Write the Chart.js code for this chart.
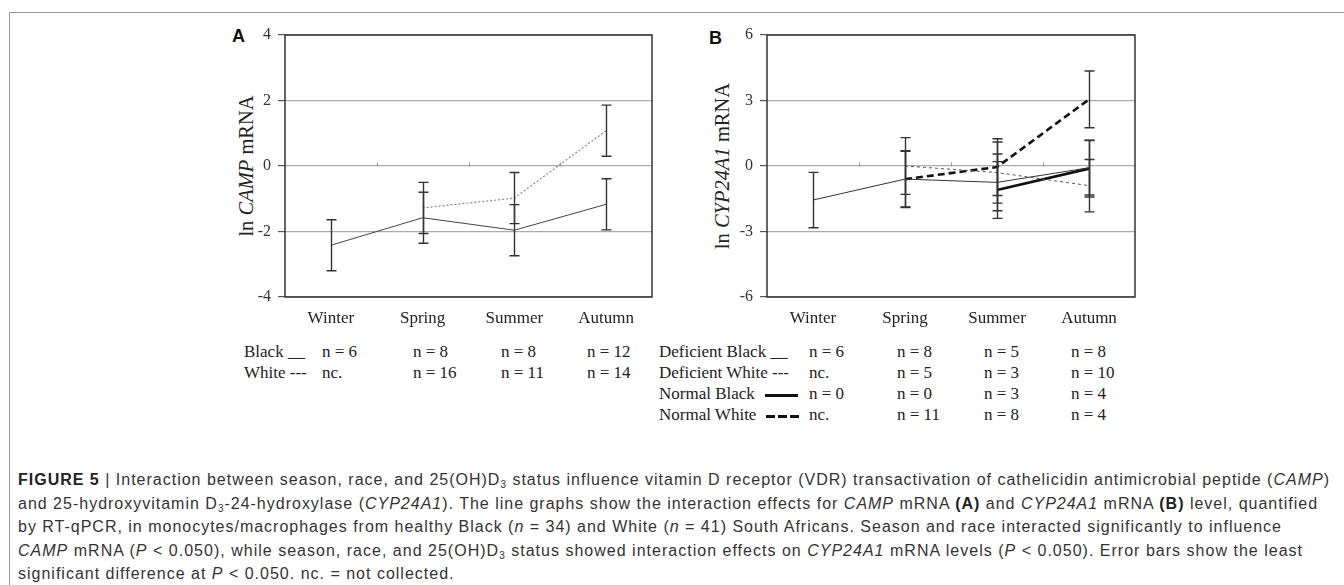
<!DOCTYPE html>
<html>
<head>
<meta charset="utf-8">
<script src="https://cdn.jsdelivr.net/npm/chart.js@4/dist/chart.umd.min.js"></script>
<style>
  body { margin: 0; background: #fff; width: 1344px; height: 585px; overflow: hidden; position: relative; }
  .frame { position: absolute; left: 9px; top: 12px; width: 1400px; height: 600px; border-left: 1px solid #999; border-top: 1px solid #999; }
  .cv { position: absolute; }
  .t { position: absolute; font-family: "Liberation Serif", serif; font-size: 17px; color: #222; white-space: nowrap; line-height: 20px; }
  .panel { position: absolute; font-family: "Liberation Sans", Arial, sans-serif; font-weight: bold; font-size: 18px; color: #111; }
  .ytitle { position: absolute; font-family: "Liberation Serif", serif; font-size: 20.5px; color: #222; white-space: nowrap; transform: translate(-50%, -50%) rotate(-90deg); }
  .cl { position: absolute; left: 18px; font-family: "Liberation Sans", Arial, sans-serif; font-size: 16px; line-height: 20px; color: #333; white-space: nowrap; }
  .cl b { color: #222; }
  .cl sub { font-size: 10px; vertical-align: baseline; position: relative; top: 3px; }
  .sample { display: inline-block; width: 33px; height: 3px; vertical-align: middle; margin: 0 8px 0 10px; }
  .solid { background: #111; }
  .dashed { background: repeating-linear-gradient(90deg, #111 0 9px, transparent 9px 12px); }
</style>
</head>
<body>
<div class="frame"></div>

<div class="panel" style="left:232px; top:26px;">A</div>
<div class="panel" style="left:709px; top:28px;">B</div>
<div class="ytitle" style="left:246px; top:166px;">ln <i>CAMP</i> mRNA</div>
<div class="ytitle" style="left:722px; top:166px;">ln <i>CYP24A1</i> mRNA</div>

<canvas id="chartA" class="cv" style="left:200px; top:0px;" width="470" height="340"></canvas>
<canvas id="chartB" class="cv" style="left:680px; top:0px;" width="470" height="340"></canvas>

<div id="tables"></div>

<div class="cl" data-w="1312" data-y="480"><b>FIGURE 5</b> | Interaction between season, race, and 25(OH)D<sub>3</sub> status influence vitamin D receptor (VDR) transactivation of cathelicidin antimicrobial peptide (<i>CAMP</i>)</div>
<div class="cl" data-w="1300" data-y="503.5">and 25-hydroxyvitamin D<sub>3</sub>-24-hydroxylase (<i>CYP24A1</i>). The line graphs show the interaction effects for <i>CAMP</i> mRNA <b>(A)</b> and <i>CYP24A1</i> mRNA <b>(B)</b> level, quantified</div>
<div class="cl" data-w="1264" data-y="527">by RT-qPCR, in monocytes/macrophages from healthy Black (<i>n</i> = 34) and White (<i>n</i> = 41) South Africans. Season and race interacted significantly to influence</div>
<div class="cl" data-w="1285" data-y="550.5"><i>CAMP</i> mRNA (<i>P</i> &lt; 0.050), while season, race, and 25(OH)D<sub>3</sub> status showed interaction effects on <i>CYP24A1</i> mRNA levels (<i>P</i> &lt; 0.050). Error bars show the least</div>
<div class="cl" data-y="574">significant difference at <i>P</i> &lt; 0.050. nc. = not collected.</div>

<script>
// categories
const seasons = ['Winter', 'Spring', 'Summer', 'Autumn'];

// panel A: ln CAMP mRNA
const campBlack = [-2.42, -1.58, -1.96, -1.17];
const campWhite = [null, -1.28, -0.98, 1.08];
const campBlackErr = [0.78, 0.78, 0.78, 0.78];
const campWhiteErr = [null, 0.78, 0.78, 0.78];
const campTicks = [-4, -2, 0, 2, 4];

// panel B: ln CYP24A1 mRNA
const cypDefBlack = [-1.56, -0.6, -0.75, -0.08];
const cypDefWhite = [null, 0.0, -0.3, -0.9];
const cypNormBlack = [null, null, -1.1, -0.12];
const cypNormWhite = [null, -0.6, -0.05, 3.05];
const cypDefBlackErr = [1.27, 1.27, 1.3, 1.25];
const cypDefWhiteErr = [null, 1.3, 1.4, 1.2];
const cypNormBlackErr = [null, null, 1.3, 1.3];
const cypNormWhiteErr = [null, 1.3, 1.3, 1.3];
const cypTicks = [-6, -3, 0, 3, 6];

// sample sizes under each panel
const nCampBlack = ['n = 6', 'n = 8', 'n = 8', 'n = 12'];
const nCampWhite = ['nc.', 'n = 16', 'n = 11', 'n = 14'];
const nDefBlack = ['n = 6', 'n = 8', 'n = 5', 'n = 8'];
const nDefWhite = ['nc.', 'n = 5', 'n = 3', 'n = 10'];
const nNormBlack = ['n = 0', 'n = 0', 'n = 3', 'n = 4'];
const nNormWhite = ['nc.', 'n = 11', 'n = 8', 'n = 4'];

// error bars + frame + little x ticks on the zero line
const decorPlugin = {
  id: 'decor',
  afterDatasetsDraw(chart) {
    const ctx = chart.ctx;
    const xs = chart.scales.x, ys = chart.scales.y;
    const a = chart.chartArea;
    ctx.save();
    // ticks on the zero line between seasons
    ctx.strokeStyle = '#999';
    ctx.lineWidth = 1;
    const y0 = Math.round(ys.getPixelForValue(0)) + 0.5;
    for (let i = 0; i < seasons.length - 1; i++) {
      const xb = Math.round((xs.getPixelForValue(i) + xs.getPixelForValue(i + 1)) / 2) + 0.5;
      ctx.beginPath(); ctx.moveTo(xb, y0); ctx.lineTo(xb, y0 - 4); ctx.stroke();
    }
    // error bars
    ctx.strokeStyle = '#333';
    ctx.lineWidth = 1.4;
    chart.data.datasets.forEach(ds => {
      if (!ds.errors) return;
      ds.data.forEach((v, i) => {
        const e = ds.errors[i];
        if (v === null || e === null || e === undefined) return;
        const x = Math.round(xs.getPixelForValue(i)) + 0.5;
        const yt = ys.getPixelForValue(v + e), yb = ys.getPixelForValue(v - e);
        ctx.beginPath();
        ctx.moveTo(x, yt); ctx.lineTo(x, yb);
        ctx.moveTo(x - 5, yt); ctx.lineTo(x + 5, yt);
        ctx.moveTo(x - 5, yb); ctx.lineTo(x + 5, yb);
        ctx.stroke();
      });
    });
    // plot frame
    ctx.strokeStyle = '#333';
    ctx.lineWidth = 1.5;
    ctx.strokeRect(a.left, a.top, a.right - a.left, a.bottom - a.top);
    ctx.restore();
  }
};

function makeChart(id, datasets, ticks, yPad) {
  new Chart(document.getElementById(id), {
    type: 'line',
    data: { labels: seasons, datasets: datasets },
    plugins: [decorPlugin],
    options: {
      responsive: false,
      animation: false,
      events: [],
      spanGaps: false,
      layout: { padding: { top: 35, right: yPad.right, left: 0, bottom: 0 } },
      plugins: { legend: { display: false }, tooltip: { enabled: false } },
      elements: { point: { radius: 0 }, line: { tension: 0 } },
      scales: {
        x: {
          offset: true,
          grid: { display: false, drawTicks: false },
          border: { display: false },
          ticks: { padding: 11, color: '#222', font: { family: 'Liberation Serif', size: 17 } },
          afterFit(s) { s.height = 43; }
        },
        y: {
          min: ticks[0], max: ticks[ticks.length - 1],
          afterBuildTicks(s) { s.ticks = ticks.map(v => ({ value: v })); },
          grid: { color: '#aaa', lineWidth: 1.2, tickLength: 7, tickColor: '#555' },
          border: { display: false },
          ticks: { padding: 7, color: '#333', font: { family: 'Liberation Serif', size: 16 } },
          afterFit(s) { s.width = yPad.axis; }
        }
      }
    }
  });
}

makeChart('chartA', [
  { label: 'Black', data: campBlack, errors: campBlackErr, borderColor: '#444', borderWidth: 1 },
  { label: 'White', data: campWhite, errors: campWhiteErr, borderColor: '#888', borderWidth: 1.2, borderDash: [2, 2] }
], campTicks, { axis: 85, right: 18 });

makeChart('chartB', [
  { label: 'Deficient Black', data: cypDefBlack, errors: cypDefBlackErr, borderColor: '#333', borderWidth: 1 },
  { label: 'Deficient White', data: cypDefWhite, errors: cypDefWhiteErr, borderColor: '#555', borderWidth: 1, borderDash: [3, 3] },
  { label: 'Normal Black', data: cypNormBlack, errors: cypNormBlackErr, borderColor: '#111', borderWidth: 2.6 },
  { label: 'Normal White', data: cypNormWhite, errors: cypNormWhiteErr, borderColor: '#111', borderWidth: 2.6, borderDash: [7, 4] }
], cypTicks, { axis: 87, right: 15 });

// tables under the panels
const tables = document.getElementById('tables');
function addText(html, x, yc) {
  const d = document.createElement('div');
  d.className = 't';
  d.style.left = x + 'px';
  d.style.top = (yc - 10) + 'px';
  d.innerHTML = html;
  tables.appendChild(d);
}
function addRow(label, values, labelX, colX, yc) {
  addText(label, labelX, yc);
  values.forEach((v, i) => addText(v, colX[i], yc));
}
const colA = [322, 413, 501, 587];
const colB = [809, 897, 984, 1071];
addRow('Black __', nCampBlack, 244, colA, 352);
addRow('White ---', nCampWhite, 244, colA, 373);
addRow('Deficient Black __', nDefBlack, 659, colB, 352);
addRow('Deficient White ---', nDefWhite, 659, colB, 373);
addRow('Normal Black<span class="sample solid"></span>', nNormBlack, 659, colB, 394);
addRow('Normal White<span class="sample dashed"></span>', nNormWhite, 659, colB, 415);

// caption lines: stretch each line to the width it has in the figure
let spacingSum = 0, spacingCount = 0;
document.querySelectorAll('.cl').forEach(el => {
  el.style.top = (parseFloat(el.dataset.y) - 10) + 'px';
  if (!el.dataset.w) return;
  const w = el.getBoundingClientRect().width;
  const ls = (parseFloat(el.dataset.w) - w) / el.textContent.length;
  el.style.letterSpacing = ls + 'px';
  spacingSum += ls; spacingCount++;
});
document.querySelectorAll('.cl:not([data-w])').forEach(el => {
  el.style.letterSpacing = (spacingSum / spacingCount) + 'px';
});
</script>
</body>
</html>
